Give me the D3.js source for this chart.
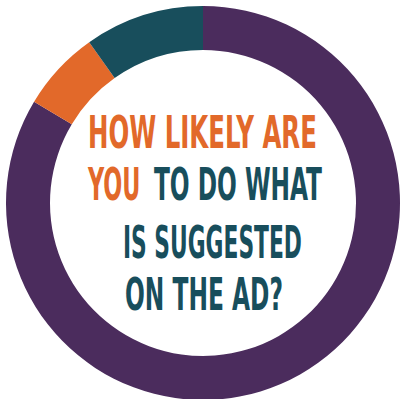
<!DOCTYPE html>
<html>
<head>
<meta charset="utf-8">
<script src="https://cdn.jsdelivr.net/npm/d3@7"></script>
<style>
html,body{margin:0;padding:0;background:#fff;}
svg{display:block;}
</style>
</head>
<body>
<svg id="chart" width="406" height="399"></svg>
<script>
// Data
const categories = ["Likely", "Somewhat likely", "Unlikely"];
const values = [83.6, 6.6, 9.8];
const colors = ["#4b2c5d", "#e2692a", "#184e5c"];
// Title lines: [text, color] segments
const titleLines = [
  [["HOW LIKELY ARE", "#e2692a"]],
  [["YOU", "#e2692a"], ["TO DO WHAT", "#184e5c"]],
  [["IS SUGGESTED", "#184e5c"]],
  [["ON THE AD?", "#184e5c"]]
];

const svg = d3.select("#chart");
const cx = 203, cy = 203, outerR = 197, innerR = 153;

const pie = d3.pie().sort(null).value(d => d)(values);
const arc = d3.arc().innerRadius(innerR).outerRadius(outerR);
const g = svg.append("g").attr("transform", `translate(${cx},${cy})`);
g.selectAll("path").data(pie).join("path")
  .attr("d", arc)
  .attr("fill", (d, i) => colors[i]);

// layout of text segments (x start, width) and baselines
const layout = [
  [[88, 229]],
  [[88, 53], [154, 168]],
  [[123, 179]],
  [[125, 158]]
];
const baselines = [148, 200, 258, 310];

titleLines.forEach((line, li) => {
  line.forEach((seg, si) => {
    const [x, w] = layout[li][si];
    const t = svg.append("text")
      .attr("x", 0)
      .attr("y", 0)
      .attr("font-family", "'DejaVu Sans Condensed', 'Liberation Sans Narrow', sans-serif")
      .attr("font-weight", "bold")
      .attr("font-size", 44)
      .attr("fill", seg[1])
      .text(seg[0]);
    const natural = t.node().getBBox().width;
    t.attr("transform", `translate(${x},${baselines[li]}) scale(${w / natural},1)`);
  });
});
</script>
</body>
</html>
